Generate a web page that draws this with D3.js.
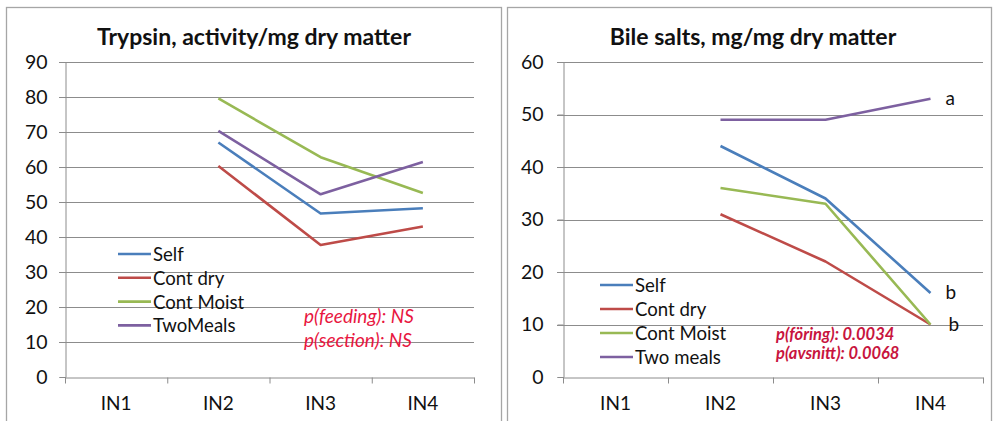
<!DOCTYPE html>
<html><head><meta charset="utf-8">
<script src="https://cdn.jsdelivr.net/npm/d3@7"></script>
<style>
html,body{margin:0;padding:0;background:#fff;}
svg{display:block;font-family:Lato,"Open Sans",sans-serif;}
</style></head>
<body>
<svg id="c" width="993" height="421"></svg>
<script>
const categories = ["IN1","IN2","IN3","IN4"];
const seriesColors = ["#4a7ebb","#be4b48","#98b954","#7d60a0"];

const trypsinNames = ["Self","Cont dry","Cont Moist","TwoMeals"];
const trypsinSelf = [null,67,46.7,48.2];
const trypsinContDry = [null,60.3,37.7,43];
const trypsinContMoist = [null,79.6,62.8,52.6];
const trypsinTwoMeals = [null,70.3,52.2,61.4];
const trypsinTicks = [0,10,20,30,40,50,60,70,80,90];
const trypsinNotes = ["p(feeding): NS","p(section): NS"];

const bileNames = ["Self","Cont dry","Cont Moist","Two meals"];
const bileSelf = [null,44,34,16];
const bileContDry = [null,31,22,10];
const bileContMoist = [null,36,33,10];
const bileTwoMeals = [null,49,49,53];
const bileTicks = [0,10,20,30,40,50,60];
const bileNotes = ["p(föring): 0.0034","p(avsnitt): 0.0068"];
const bileLetters = [{cat:"IN4", v:53, t:"a"},{cat:"IN4", v:16, t:"b"},{cat:"IN4", v:10, t:"b"}];

const svg = d3.select("#c");

function panel(cfg){
  const g = svg.append("g");
  g.append("rect").attr("x",cfg.frame[0]+0.5).attr("y",cfg.frame[1]+0.5)
    .attr("width",cfg.frame[2]).attr("height",cfg.frame[3])
    .attr("fill","#fff").attr("stroke","#a6a6a6").attr("stroke-width",1.3);
  const x = d3.scaleBand().domain(categories).range([cfg.x0,cfg.x1]);
  const y = d3.scaleLinear().domain([0,d3.max(cfg.ticks)]).range([cfg.y0,cfg.y1]);
  g.append("g").selectAll("line").data(cfg.ticks.slice(1)).join("line")
    .attr("x1",cfg.x0-6).attr("x2",cfg.x1)
    .attr("y1",d=>Math.round(y(d))+0.5).attr("y2",d=>Math.round(y(d))+0.5)
    .attr("stroke","#8c8c8c").attr("stroke-width",1);
  const ya = g.append("g").attr("transform",`translate(${cfg.x0+0.5},0)`)
    .call(d3.axisLeft(y).tickValues(cfg.ticks).tickSize(6).tickPadding(cfg.tickPad));
  ya.select(".domain").attr("stroke","#8c8c8c");
  ya.selectAll(".tick line").attr("stroke","#8c8c8c");
  ya.selectAll("text").attr("font-size",19.5).attr("fill","#111").attr("font-family","Lato");
  const xa = g.append("g").attr("transform",`translate(0,${cfg.y0+0.5})`)
    .call(d3.axisBottom(x).tickSize(0).tickPadding(19));
  xa.select(".domain").attr("stroke","#8c8c8c");
  xa.selectAll("text").attr("font-size",19).attr("fill","#111").attr("font-family","Lato");
  const bounds = categories.map(c=>x(c)).concat([cfg.x1]);
  xa.selectAll(".bt").data(bounds).join("line").attr("class","bt")
    .attr("x1",d=>d+0.5).attr("x2",d=>d+0.5).attr("y1",0).attr("y2",6).attr("stroke","#8c8c8c");
  g.append("text").attr("x",cfg.titleX).attr("y",45).attr("text-anchor","middle")
    .attr("font-size",23).attr("font-weight","bold").attr("fill","#111").text(cfg.title);
  const line = d3.line().defined(d=>d.v!=null)
    .x(d=>x(d.c)+x.bandwidth()/2).y(d=>y(d.v));
  cfg.series.forEach((s,i)=>{
    g.append("path").datum(s.map((v,j)=>({c:categories[j],v})))
      .attr("d",line).attr("fill","none").attr("stroke",seriesColors[i])
      .attr("stroke-width",2.6).attr("stroke-linejoin","round");
  });
  cfg.names.forEach((n,i)=>{
    const yy = cfg.legY + i*cfg.legDy;
    g.append("line").attr("x1",cfg.legX).attr("x2",cfg.legX+33).attr("y1",yy).attr("y2",yy)
      .attr("stroke",seriesColors[i]).attr("stroke-width",2.6);
    g.append("text").attr("x",cfg.legX+35).attr("y",yy+7).attr("font-size",18.6)
      .attr("fill","#111").text(n);
  });
  cfg.notes.forEach((t,i)=>{
    g.append("text").attr("x",cfg.noteX).attr("y",cfg.noteY+i*cfg.noteDy)
      .attr("font-size",cfg.noteSize).attr("font-style","italic")
      .attr("font-weight",cfg.noteWeight).attr("fill",cfg.noteColor).text(t);
  });
  return {g,x,y};
}

panel({frame:[6,7,495,430], x0:65, x1:474, y0:377, y1:62, ticks:trypsinTicks, tickPad:12,
  title:"Trypsin, activity/mg dry matter", titleX:254,
  series:[trypsinSelf,trypsinContDry,trypsinContMoist,trypsinTwoMeals], names:trypsinNames,
  legX:118, legY:254, legDy:23.8,
  notes:trypsinNotes, noteX:304, noteY:323, noteDy:23.5, noteSize:19, noteWeight:"normal", noteColor:"#e8173f"});

const p2 = panel({frame:[507,7,484,430], x0:563, x1:983, y0:377, y1:62, ticks:bileTicks, tickPad:14,
  title:"Bile salts, mg/mg dry matter", titleX:753,
  series:[bileSelf,bileContDry,bileContMoist,bileTwoMeals], names:bileNames,
  legX:600, legY:285, legDy:24,
  notes:bileNotes, noteX:776, noteY:340, noteDy:18.5, noteSize:16.5, noteWeight:"bold", noteColor:"#c8143e"});

p2.g.selectAll(".let").data(bileLetters).join("text").attr("class","let")
  .attr("x",(d,i)=>p2.x(d.cat)+p2.x.bandwidth()/2+ (i==2?18:15))
  .attr("y",d=>p2.y(d.v)+6).attr("font-size",19).attr("fill","#111").text(d=>d.t);
</script>
</body></html>
